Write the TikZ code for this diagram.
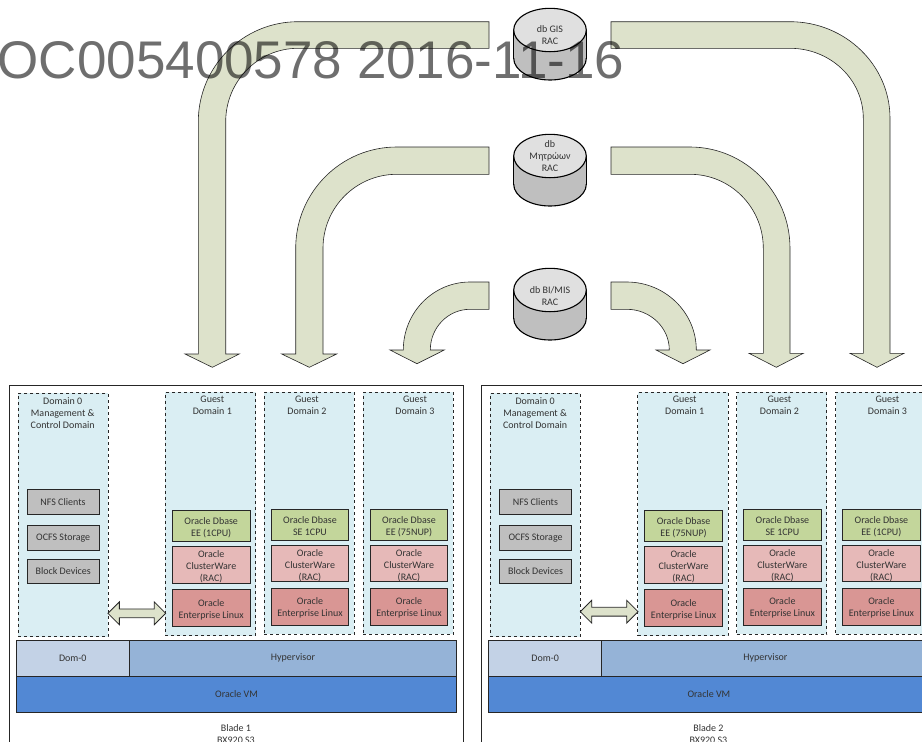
\documentclass[tikz,border=0pt]{standalone}
\usepackage{fontspec}
\setmainfont{Carlito}
\newfontfamily\markfont{Liberation Sans}
\usetikzlibrary{shapes.arrows}
\definecolor{flowfill}{HTML}{DDE2CB}
\definecolor{domfill}{HTML}{DAEEF3}
\definecolor{dbgreen}{HTML}{C3D69B}
\definecolor{crspink}{HTML}{E6B9B8}
\definecolor{osred}{HTML}{D99694}
\definecolor{nfsgray}{HTML}{BFBFBF}
\definecolor{domzero}{HTML}{C3D2E6}
\definecolor{hyperblue}{HTML}{95B3D7}
\definecolor{vmblue}{HTML}{5288D4}
\definecolor{inkline}{HTML}{262626}
\newcommand{\dropline}{\rule{0pt}{10pt}}
\tikzset{
  label/.style={font=\fontsize{10}{12}\selectfont, text=black!80, align=center, inner sep=0pt},
  domainbox/.style={draw=inkline, dashed, line width=0.8pt, fill=domfill, inner sep=0pt, outer sep=0pt},
  stackbox/.style={label, draw=inkline, line width=0.9pt, minimum width=77.6pt, outer sep=0pt},
  toolbox/.style={label, draw=inkline, fill=nfsgray, line width=0.9pt, minimum width=72pt, outer sep=0pt},
  layerbox/.style={label, draw=inkline, line width=0.9pt, outer sep=0pt},
  flowarrow/.style={draw=black!85, fill=flowfill, line width=0.6pt},
  dbline/.style={draw=black, line width=1.1pt},
}
\begin{document}
\begin{tikzpicture}[x=1pt,y=-1pt]
\useasboundingbox (0,0) rectangle (922,742);
% Both blades
\foreach \n/\bx/\gone/\gthree/\ay in {1/0/EE (1CPU)/EE (75NUP)/613.3,2/472.4/EE (75NUP)/EE (1CPU)/611.7}{
\begin{scope}[xshift=\bx]
  \node[draw=inkline, line width=0.8pt, minimum width=454.7pt, minimum height=375pt] (blade\n) at (236.4,572.5) {};
  % Domain 0
  \node[domainbox, minimum width=90pt, minimum height=243.4pt] (dom\n) at (63,515) {};
  \node[label] (domlab\n) at (62.7,412.6) {Domain 0\\Management \&\\Control Domain};
  \node[toolbox, minimum height=25pt] (nfs\n) at (63,502.2) {NFS Clients};
  \node[toolbox, minimum height=25.4pt] (ocfs\n) at (63.2,538) {OCFS Storage};
  \node[toolbox, minimum height=24pt] (block\n) at (63.2,571.3) {Block Devices};
  % Guest domains
  \foreach \g/\dx/\dy/\dh/\tx/\sx/\gy/\gh/\py/\ph/\ry/\rh/\dbase in {
    1/210.5/514/243.4/212.3/211.2/526.2/31/565/36.6/608/36.6/Oracle Dbase\\\gone,
    2/309.3/513.3/242/307/310/525/30.6/563.7/36/606.7/36.7/Oracle Dbase\\SE 1CPU,
    3/408.2/513.3/242/415/409/525/30.6/563.7/36/606.7/36.7/Oracle Dbase\\\gthree}{
    \node[domainbox, minimum width=90.2pt, minimum height=\dh pt] (guest\g-\n) at (\dx,\dy) {};
    \node[label] (guestlab\g-\n) at (\tx,405.5) {Guest\\Domain \g};
    \node[stackbox, fill=dbgreen, minimum height=\gh pt] (dbase\g-\n) at (\sx,\gy) {\dropline\dbase};
    \node[stackbox, fill=crspink, minimum height=\ph pt] (crs\g-\n) at (\sx,\py) {\dropline Oracle\\ClusterWare\\(RAC)};
    \node[stackbox, fill=osred, minimum height=\rh pt] (oel\g-\n) at (\sx,\ry) {\dropline Oracle\\Enterprise Linux};
  }
  % Link between domain 0 and guest 1
  \node[double arrow, draw=inkline, fill=flowfill, line width=0.8pt, double arrow head extend=7pt,
    minimum height=57.7pt, minimum width=22pt, inner sep=4pt] (link\n) at (136.8,\ay) {};
  % Layers
  \node[layerbox, fill=domzero, minimum width=113pt, minimum height=35.3pt] (domzero\n) at (72.8,658.3) {Dom-0};
  \node[layerbox, fill=hyperblue, minimum width=327.4pt, minimum height=35.3pt] (hyper\n) at (293,658.3) {Hypervisor};
  \node[layerbox, fill=vmblue, minimum width=440.4pt, minimum height=36pt] (ovm\n) at (236.5,694.3) {Oracle VM};
  \node[label] (bladelab\n) at (236,734) {Blade \n\\BX920 S3};
\end{scope}
}
% Databases
\foreach \cy in {30,156,290}{
  \draw[dbline, fill=nfsgray] (550,\cy+28.3) ellipse [x radius=36.3pt, y radius=21.7pt];
  \fill[nfsgray] (513.7,\cy) rectangle (586.3,\cy+28.3);
  \draw[dbline] (513.7,\cy) -- (513.7,\cy+28.3) (586.3,\cy) -- (586.3,\cy+28.3);
  \draw[dbline, fill=black!12] (550,\cy) ellipse [x radius=36.3pt, y radius=21.7pt];
}
\node[label] (dbgis) at (550,35) {db GIS\\RAC};
\node[label] (dbmit) at (550,156) {db\\Μητρώων\\RAC};
\node[label] (dbbi) at (550,296) {db BI/MIS\\RAC};
% Arrows to the left
\draw[flowarrow] (489,21.7) -- (298,21.7) .. controls (242.9,21.7) and (198.3,66.5) .. (198.3,121.7)
  -- (198.3,354) -- (185,354) -- (212.3,367.3) -- (239.3,354) -- (225.7,354) -- (225.7,121.7)
  .. controls (225.7,81.2) and (258.1,48.3) .. (298,48.3) -- (489,48.3) -- cycle;
\draw[flowarrow] (489,147) -- (396.7,147) .. controls (340.9,147) and (295.7,192.3) .. (295.7,248.3)
  -- (295.7,354) -- (281.7,354) -- (309.3,367.3) -- (336.7,354) -- (323,354) -- (323,248.3)
  .. controls (323,207.4) and (356,174.3) .. (396.7,174.3) -- (489,174.3) -- cycle;
\draw[flowarrow] (489,282) -- (470,282) .. controls (433.2,282) and (403.3,312.4) .. (403.3,350)
  -- (390,350) -- (417,363.7) -- (444.3,350) -- (430.3,350)
  .. controls (430.3,327.5) and (448.1,309.3) .. (470,309.3) -- (489,309.3) -- cycle;
% Arrows to the right
\draw[flowarrow] (611,21.7) -- (790,21.7) .. controls (845.2,21.7) and (890,65) .. (890,118.3)
  -- (890,353.3) -- (904,353.3) -- (877,367.3) -- (850,353.3) -- (863.3,353.3) -- (863.3,118.3)
  .. controls (863.3,79.6) and (830.5,48.3) .. (790,48.3) -- (611,48.3) -- cycle;
\draw[flowarrow] (611,147) -- (690,147) .. controls (745.2,147) and (790,192.4) .. (790,248.3)
  -- (790,353.3) -- (803.3,353.3) -- (776.3,367.3) -- (749,353.3) -- (763.3,353.3) -- (763.3,248.3)
  .. controls (763.3,207.4) and (730.5,174.3) .. (690,174.3) -- (611,174.3) -- cycle;
\draw[flowarrow] (611,282) -- (626.7,282) .. controls (665.1,282) and (696.3,312.4) .. (696.3,350)
  -- (710,350) -- (683,363.7) -- (656,350) -- (669.3,350)
  .. controls (669.3,327.5) and (650.2,309.3) .. (626.7,309.3) -- (611,309.3) -- cycle;
% Stamp over everything
\node[anchor=base, inner sep=0pt, text=black, text opacity=0.57, font=\markfont\fontsize{53}{54}\selectfont]
  (stamp) at (311,78) {OC005400578 2016-11-16};
\end{tikzpicture}
\end{document}
